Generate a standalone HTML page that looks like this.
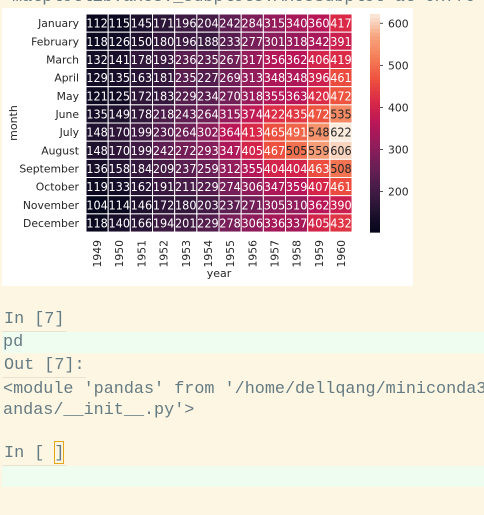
<!DOCTYPE html>
<html><head><meta charset="utf-8"><style>
body{margin:0;width:484px;height:515px;background:#fdf6e3;overflow:hidden;position:relative;font-family:"Liberation Mono",monospace;}
.mono{position:absolute;font-family:"Liberation Mono",monospace;font-size:16.8px;color:#657b83;white-space:pre;}
.bar{position:absolute;left:2px;width:482px;height:21px;background:#effdf0;}
.ul{position:absolute;height:1px;background:#e8e2cf;}
</style></head><body>
<div class="mono" style="left:2px;top:-12px;">&lt;matplotlib.axes._subplots.AxesSubplot at 0x7f0</div>
<svg style="position:absolute;left:2px;top:8px" width="411" height="278" id="fig"></svg>
<div class="mono" style="left:4px;top:310px;">In [7]</div>
<div class="ul" style="left:2px;top:331px;width:64px"></div>
<div class="bar" style="top:332px"></div>
<div class="mono" style="left:3px;top:333px;">pd</div>
<div class="mono" style="left:4px;top:356px;">Out [7]:</div>
<div class="ul" style="left:2px;top:377px;width:84px"></div>
<div class="mono" style="left:3px;top:379px;line-height:21px;">&lt;module 'pandas' from '/home/dellqang/miniconda3/
andas/__init__.py'&gt;</div>
<div class="mono" style="left:4px;top:444px;">In [ ]</div>
<div style="position:absolute;left:54px;top:441px;width:10px;height:23px;border:1px solid #e5a514;box-sizing:border-box"></div>
<div class="ul" style="left:2px;top:465px;width:64px"></div>
<div class="bar" style="top:466px"></div>
<script>
const months=["January","February","March","April","May","June","July","August","September","October","November","December"];
const years=["1949","1950","1951","1952","1953","1954","1955","1956","1957","1958","1959","1960"];
const y1949=[112,118,132,129,121,135,148,148,136,119,104,118];
const y1950=[115,126,141,135,125,149,170,170,158,133,114,140];
const y1951=[145,150,178,163,172,178,199,199,184,162,146,166];
const y1952=[171,180,193,181,183,218,230,242,209,191,172,194];
const y1953=[196,196,236,235,229,243,264,272,237,211,180,201];
const y1954=[204,188,235,227,234,264,302,293,259,229,203,229];
const y1955=[242,233,267,269,270,315,364,347,312,274,237,278];
const y1956=[284,277,317,313,318,374,413,405,355,306,271,306];
const y1957=[315,301,356,348,355,422,465,467,404,347,305,336];
const y1958=[340,318,362,348,363,435,491,505,404,359,310,337];
const y1959=[360,342,406,396,420,472,548,559,463,407,362,405];
const y1960=[417,391,419,461,472,535,622,606,508,461,390,432];
const cbTicks=[200,300,400,500,600];
const cols=[y1949,y1950,y1951,y1952,y1953,y1954,y1955,y1956,y1957,y1958,y1959,y1960];
const all=cols.flat(),vmin=Math.min(...all),vmax=Math.max(...all);
const NS="http://www.w3.org/2000/svg",svg=document.getElementById('fig');
const X0=84,Y0=6,CW=22.17,RH=18.17,W=CW*12,H=RH*12;
const xS=i=>X0+i*CW, yS=j=>Y0+j*RH;
const stops=[[3,5,26],[34,19,49],[69,28,71],[106,31,86],[146,28,91],[185,22,87],[217,40,71],[237,80,62],[244,125,87],[246,164,126],[250,235,221]];
function cmap(v){let t=(v-vmin)/(vmax-vmin)*10;let i=Math.min(9,Math.floor(t)),f=t-i;const a=stops[i],b=stops[i+1];return `rgb(${a.map((c,k)=>Math.round(c+(b[k]-c)*f)).join(',')})`;}
function lum(v){let t=(v-vmin)/(vmax-vmin);return t>0.77;}
function el(tag,at,txt){const e=document.createElementNS(NS,tag);for(const k in at)e.setAttribute(k,at[k]);if(txt!==undefined)e.textContent=txt;svg.appendChild(e);return e;}
const bg=el('rect',{x:0,y:0,width:411,height:278,fill:'#fff'});


cols.forEach((col,i)=>col.forEach((v,j)=>{
 const r=el('rect',{x:xS(i),y:yS(j),width:CW,height:RH,fill:cmap(v),stroke:'#fff','stroke-width':1});
 
 
 const t=el('text',{x:xS(i)+CW/2,y:yS(j)+RH/2+4.5,'text-anchor':'middle','font-family':'DejaVu Sans, sans-serif','font-size':12,'textLength':21.5,'lengthAdjust':'spacingAndGlyphs',fill:lum(v)?'#262626':'#fff'},v);
 
 
}));
months.forEach((m,j)=>{const t=el('text',{x:X0-7,y:yS(j)+RH/2+4,'text-anchor':'end','font-family':'DejaVu Sans, sans-serif','font-size':10.8,fill:'#262626'},m);
 
 });
years.forEach((yr,i)=>{const cx=xS(i)+CW/2+4,cy=Y0+H+8;const t=el('text',{x:cx,y:cy,transform:`rotate(-90 ${cx} ${cy})`,'text-anchor':'end','font-family':'DejaVu Sans, sans-serif','font-size':10.8,fill:'#262626'},yr);
 
 });
let t=el('text',{x:X0+W/2,y:269,'text-anchor':'middle','font-family':'DejaVu Sans, sans-serif','font-size':11,fill:'#262626'},'year');


t=el('text',{x:15,y:Y0+H/2,transform:`rotate(-90 15 ${Y0+H/2})`,'text-anchor':'middle','font-family':'DejaVu Sans, sans-serif','font-size':11,fill:'#262626'},'month');


const CBX=368,CBW=10,cy=v=>Y0+H-(v-vmin)/(vmax-vmin)*H;
for(let k=0;k<60;k++){const v0=vmin+(vmax-vmin)*k/60,v1=vmin+(vmax-vmin)*(k+1)/60;
 const r=el('rect',{x:CBX,y:cy(v1),width:CBW,height:cy(v0)-cy(v1)+0.6,fill:cmap((v0+v1)/2)});
 
 }
cbTicks.forEach(v=>{el('line',{x1:CBX+CBW,x2:CBX+CBW+3,y1:cy(v),y2:cy(v),stroke:'#262626','stroke-width':0.8});
 const tt=el('text',{x:CBX+CBW+8,y:cy(v)+4,'font-family':'DejaVu Sans, sans-serif','font-size':10.8,fill:'#262626'},v);
 
 });
</script>
</body></html>
